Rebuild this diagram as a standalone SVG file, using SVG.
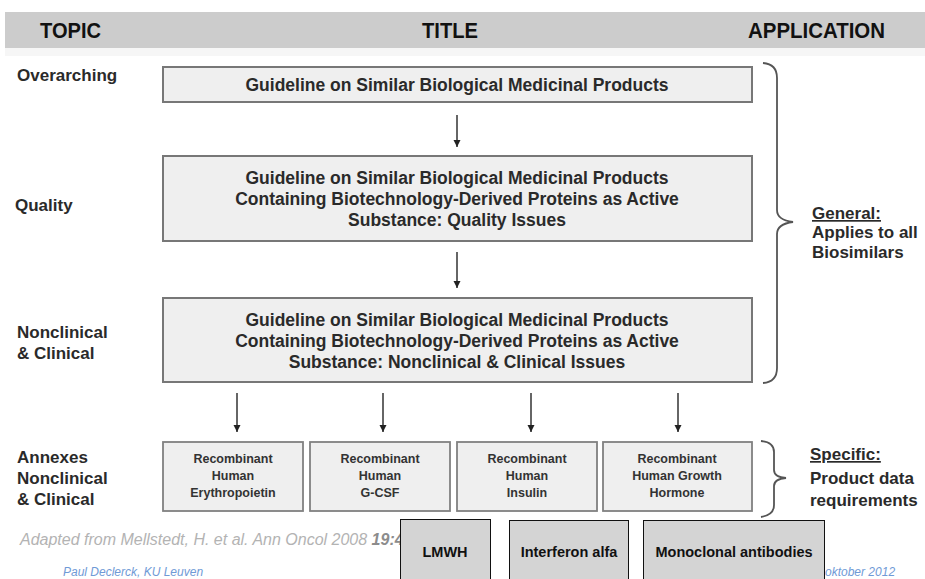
<svg xmlns="http://www.w3.org/2000/svg" width="925" height="579" viewBox="0 0 925 579">
<style>
.hdr{font-family:"Liberation Sans",Arial,sans-serif;font-weight:bold;font-size:22px;fill:#111}
.lbl{font-family:"Liberation Sans",Arial,sans-serif;font-weight:bold;font-size:17px;fill:#2a2a2a}
.bt{font-family:"Liberation Sans",Arial,sans-serif;font-weight:bold;font-size:17.5px;fill:#2a2a2a;text-anchor:middle}
.st{font-family:"Liberation Sans",Arial,sans-serif;font-weight:bold;font-size:12.5px;fill:#333;text-anchor:middle}
.box{fill:#efefef;stroke:#777;stroke-width:2}
.sbox{fill:#efefef;stroke:#808080;stroke-width:1.8}
.gbox{fill:#d4d4d4;stroke:#111;stroke-width:1}
.gt{font-family:"Liberation Sans",Arial,sans-serif;font-weight:bold;font-size:14.5px;fill:#111;text-anchor:middle}
.conn line{stroke:#333;stroke-width:1.5}
.brace{fill:none;stroke:#555;stroke-width:1.8}
</style>
<defs>
<marker id="ah" markerWidth="8" markerHeight="8" refX="7" refY="4" orient="auto" markerUnits="userSpaceOnUse">
<path d="M0,0.5 L7,4 L0,7.5 Z" fill="#222"/>
</marker>
</defs>
<rect x="0" y="0" width="925" height="579" fill="#ffffff"/>
<rect x="5" y="48" width="920" height="8" fill="#f6f6f6"/>
<rect x="5" y="12" width="920" height="36" fill="#cccccc"/>
<text class="hdr" x="40" y="38" textLength="61" lengthAdjust="spacingAndGlyphs">TOPIC</text>
<text class="hdr" x="422" y="38" textLength="56" lengthAdjust="spacingAndGlyphs">TITLE</text>
<text class="hdr" x="748" y="38" textLength="137" lengthAdjust="spacingAndGlyphs">APPLICATION</text>

<text class="lbl" x="17" y="81">Overarching</text>
<text class="lbl" x="15" y="211">Quality</text>
<text class="lbl" x="17" y="338">Nonclinical</text>
<text class="lbl" x="17" y="359">&amp; Clinical</text>
<text class="lbl" x="17" y="463">Annexes</text>
<text class="lbl" x="17" y="484">Nonclinical</text>
<text class="lbl" x="17" y="505">&amp; Clinical</text>

<g id="n1">
<rect class="box" x="163" y="67" width="589" height="35"/>
<text class="bt" x="457" y="91">Guideline on Similar Biological Medicinal Products</text>
</g>
<g id="n2">
<rect class="box" x="163" y="156" width="589" height="85"/>
<text class="bt" x="457" y="184">Guideline on Similar Biological Medicinal Products</text>
<text class="bt" x="457" y="205">Containing Biotechnology-Derived Proteins as Active</text>
<text class="bt" x="457" y="226">Substance: Quality Issues</text>
</g>
<g id="n3">
<rect class="box" x="163" y="298" width="589" height="84"/>
<text class="bt" x="457" y="326">Guideline on Similar Biological Medicinal Products</text>
<text class="bt" x="457" y="347">Containing Biotechnology-Derived Proteins as Active</text>
<text class="bt" x="457" y="368">Substance: Nonclinical &amp; Clinical Issues</text>
</g>
<g id="a1">
<rect class="sbox" x="163" y="442" width="140" height="69"/>
<text class="st" x="233" y="463">Recombinant</text>
<text class="st" x="233" y="480">Human</text>
<text class="st" x="233" y="497">Erythropoietin</text>
</g>
<g id="a2">
<rect class="sbox" x="310" y="442" width="140" height="69"/>
<text class="st" x="380" y="463">Recombinant</text>
<text class="st" x="380" y="480">Human</text>
<text class="st" x="380" y="497">G-CSF</text>
</g>
<g id="a3">
<rect class="sbox" x="457" y="442" width="140" height="69"/>
<text class="st" x="527" y="463">Recombinant</text>
<text class="st" x="527" y="480">Human</text>
<text class="st" x="527" y="497">Insulin</text>
</g>
<g id="a4">
<rect class="sbox" x="603" y="442" width="149" height="69"/>
<text class="st" x="677" y="463">Recombinant</text>
<text class="st" x="677" y="480">Human Growth</text>
<text class="st" x="677" y="497">Hormone</text>
</g>

<g class="conn">
<line x1="457" y1="115" x2="457" y2="147" marker-end="url(#ah)"/>
<line x1="457" y1="252" x2="457" y2="288" marker-end="url(#ah)"/>
<line x1="237" y1="393" x2="237" y2="432" marker-end="url(#ah)"/>
<line x1="383" y1="393" x2="383" y2="432" marker-end="url(#ah)"/>
<line x1="531" y1="393" x2="531" y2="432" marker-end="url(#ah)"/>
<line x1="678" y1="393" x2="678" y2="432" marker-end="url(#ah)"/>
</g>

<path class="brace" d="M763,63 Q777,64 777,78 L777,210 Q777,220 793,222 Q777,224 777,234 L777,368 Q777,382 763,383"/>
<path class="brace" d="M761,441 Q774,442 774,452 L774,470 Q774,477 786,478 Q774,479 774,486 L774,505 Q774,515 761,517"/>

<text class="lbl" x="812" y="219" text-decoration="underline">General:</text>
<text class="lbl" x="812" y="238">Applies to all</text>
<text class="lbl" x="812" y="258">Biosimilars</text>
<text class="lbl" x="810" y="460" text-decoration="underline">Specific:</text>
<text class="lbl" x="810" y="484">Product data</text>
<text class="lbl" x="810" y="506">requirements</text>

<text x="20" y="545" font-family="'Liberation Sans',Arial,sans-serif" font-style="italic" font-size="16" fill="#b3b3b3">Adapted from Mellstedt, H. et al. Ann Oncol 2008 <tspan font-weight="bold" fill="#8c8c8c">19:4</tspan></text>
<text x="63" y="576" font-family="'Liberation Sans',Arial,sans-serif" font-style="italic" font-size="12" fill="#6f9ad6">Paul Declerck, KU Leuven</text>
<text x="825" y="576" font-family="'Liberation Sans',Arial,sans-serif" font-style="italic" font-size="12" fill="#6f9ad6">oktober 2012</text>

<g id="b1">
<rect class="gbox" x="400.5" y="519.5" width="90" height="70"/>
<text class="gt" x="445" y="557">LMWH</text>
</g>
<g id="b2">
<rect class="gbox" x="509.5" y="520.5" width="119" height="70"/>
<text class="gt" x="569" y="557">Interferon alfa</text>
</g>
<g id="b3">
<rect class="gbox" x="643.5" y="520.5" width="181" height="70"/>
<text class="gt" x="734" y="557">Monoclonal antibodies</text>
</g>
</svg>
